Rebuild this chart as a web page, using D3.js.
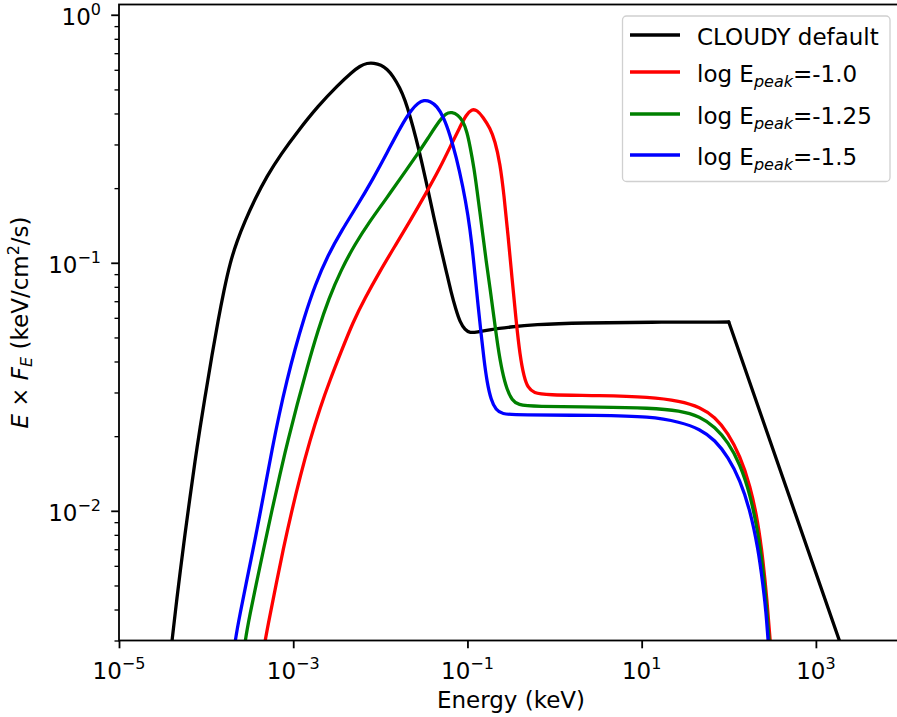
<!DOCTYPE html>
<html>
<head>
<meta charset="utf-8">
<script src="https://cdn.jsdelivr.net/npm/d3@7"></script>
<style>
  body { margin: 0; background: #fff; }
  text { font-family: "DejaVu Sans", sans-serif; fill: #000; }
</style>
</head>
<body>
<svg id="chart" width="897" height="717"></svg>
<script>
// ---- Spectra, tabulated as log10 E (keV) and log10 E*F_E (keV/cm^2/s) ----
const cloudyLogE = [-4.4145, -4.3916, -4.3456, -4.2997, -4.2423, -4.1849, -4.1275, -4.0701, -4.0012, -3.9324,
  -3.8635, -3.7946, -3.7257, -3.6454, -3.5535, -3.4387, -3.3010, -3.1402, -2.9451, -2.7155,
  -2.4859, -2.3252, -2.2333, -2.1530, -2.0726, -1.9922, -1.9234, -1.8545, -1.7741, -1.7167,
  -1.6593, -1.5904, -1.5216, -1.4527, -1.3838, -1.3149, -1.2460, -1.1886, -1.1312, -1.0853,
  -1.0279, -0.9705, -0.8902, -0.7409, -0.5113, -0.2473, 0.3267, 1.0959, 2.0];
const cloudyLogEF = [-2.5975, -2.5249, -2.3838, -2.2507, -2.0935, -1.9443, -1.7992, -1.6661, -1.5169, -1.3718,
  -1.2347, -1.1097, -1.0009, -0.9122, -0.8315, -0.7428, -0.6501, -0.5614, -0.4686, -0.3678,
  -0.2832, -0.2308, -0.2066, -0.1945, -0.1945, -0.2025, -0.2187, -0.2469, -0.2953, -0.3437,
  -0.4082, -0.4969, -0.5977, -0.7065, -0.8194, -0.9283, -1.0291, -1.1178, -1.1904, -1.2387,
  -1.2710, -1.2831, -1.2791, -1.2690, -1.2589, -1.2488, -1.2420, -1.2395, -1.2387];
// power-law tail of the default continuum above 100 keV
const cloudyTailLogE = [2.0, 3.6];
const cloudyTailLogEF = [-1.2387, -2.8574];

const peak10LogE = [-3.3584, -3.3239, -3.2665, -3.1976, -3.1173, -3.0140, -2.9221, -2.8073, -2.6925, -2.5777,
  -2.4514, -2.3137, -2.1759, -2.0037, -1.8315, -1.6593, -1.4871, -1.3149, -1.1772, -1.0853,
  -1.0164, -0.9510, -0.8902, -0.8213, -0.7409, -0.6835, -0.6261, -0.5802, -0.5343, -0.4884,
  -0.4424, -0.3965, -0.3506, -0.3047, -0.2358, -0.1095, 0.5219, 1.0959, 1.4403, 1.6699,
  1.8421, 1.9913, 2.1291, 2.2439, 2.3357, 2.3931, 2.4390, 2.4735, 2.4964];
const peak10LogEF = [-2.6015, -2.5249, -2.4201, -2.2991, -2.1580, -1.9967, -1.8637, -1.7145, -1.5855, -1.4726,
  -1.3597, -1.2387, -1.1420, -1.0331, -0.9323, -0.8315, -0.7267, -0.6178, -0.5170, -0.4525,
  -0.4041, -0.3799, -0.3840, -0.4122, -0.4566, -0.5090, -0.5977, -0.7267, -0.8880, -1.0613,
  -1.2307, -1.3758, -1.4605, -1.5048, -1.5250, -1.5331, -1.5351, -1.5411, -1.5573, -1.5815,
  -1.6218, -1.6863, -1.7790, -1.8959, -2.0451, -2.1983, -2.3596, -2.5209, -2.6015];

const peak125LogE = [-3.5765, -3.5535, -3.4961, -3.4272, -3.3469, -3.2436, -3.1517, -3.0599, -2.9566, -2.8418,
  -2.7155, -2.5892, -2.4514, -2.2907, -2.1185, -1.9348, -1.7512, -1.5790, -1.4297, -1.3149,
  -1.2460, -1.1772, -1.1083, -1.0509, -1.0050, -0.9705, -0.9246, -0.8902, -0.8558, -0.8213,
  -0.7869, -0.7409, -0.6950, -0.6491, -0.6032, -0.5458, -0.4884, -0.4195, -0.2473, 0.5219,
  1.0959, 1.4403, 1.6699, 1.8421, 1.9913, 2.1291, 2.2439, 2.3357, 2.3931, 2.4333,
  2.4620, 2.4850];
const peak125LogEF = [-2.6015, -2.5249, -2.4161, -2.2991, -2.1661, -1.9967, -1.8516, -1.7145, -1.5734, -1.4242,
  -1.2710, -1.1420, -1.0291, -0.9243, -0.8315, -0.7428, -0.6501, -0.5654, -0.4848, -0.4243,
  -0.3961, -0.3920, -0.4041, -0.4283, -0.4727, -0.5291, -0.6178, -0.7065, -0.7993, -0.8920,
  -0.9888, -1.1017, -1.2226, -1.3436, -1.4363, -1.5129, -1.5532, -1.5734, -1.5794, -1.5815,
  -1.5855, -1.5956, -1.6198, -1.6621, -1.7226, -1.8113, -1.9322, -2.0854, -2.2387, -2.3798,
  -2.5209, -2.6096];

const peak15LogE = [-3.6913, -3.6683, -3.6109, -3.5420, -3.4617, -3.3813, -3.3124, -3.2436, -3.1632, -3.0714,
  -2.9795, -2.8762, -2.7499, -2.6007, -2.4400, -2.2678, -2.0841, -1.9119, -1.7626, -1.6364,
  -1.5675, -1.4986, -1.4297, -1.3494, -1.2690, -1.2001, -1.1312, -1.0509, -0.9935, -0.9476,
  -0.9131, -0.8787, -0.8442, -0.8098, -0.7754, -0.7294, -0.6720, -0.6032, -0.4424, 0.5219,
  1.0959, 1.4403, 1.6699, 1.8421, 1.9913, 2.1291, 2.2439, 2.3357, 2.3931, 2.4276,
  2.4505, 2.4735];
const peak15LogEF = [-2.6015, -2.5249, -2.4161, -2.2951, -2.1580, -2.0129, -1.8838, -1.7548, -1.6137, -1.4726,
  -1.3476, -1.2226, -1.0896, -0.9686, -0.8678, -0.7710, -0.6622, -0.5493, -0.4485, -0.3799,
  -0.3558, -0.3437, -0.3477, -0.3678, -0.4162, -0.4848, -0.5694, -0.6944, -0.8073, -0.9283,
  -1.0492, -1.1702, -1.2831, -1.3920, -1.4807, -1.5532, -1.5935, -1.6097, -1.6137, -1.6149,
  -1.6198, -1.6419, -1.6702, -1.7145, -1.7830, -1.8758, -1.9967, -2.1499, -2.2991, -2.4080,
  -2.5209, -2.6096];

// ---- Axes ----
const xDomain = [1e-5, 1e4];
const yDomain = [0.003, 1.1];
const xTickExponents = [-5, -3, -1, 1, 3];
const yTickExponents = [-2, -1, 0];
const xLabel = "Energy (keV)";

// ---- Legend entries ----
const legendPrefix = ["CLOUDY default", "log E", "log E", "log E"];
const legendSub = ["", "peak", "peak", "peak"];
const legendSuffix = ["", "=-1.0", "=-1.25", "=-1.5"];
const seriesColors = ["#000000", "#ff0000", "#008000", "#0000ff"];

const svg = d3.select("#chart");
const plot = { left: 119, right: 903, top: 4.5, bottom: 640.5 };
const fontSize = 23, supSize = 16;
const lineW = 3.3;

const x = d3.scaleLog().domain(xDomain).range([plot.left, plot.right]);
const y = d3.scaleLog().domain(yDomain).range([plot.bottom, plot.top]);

svg.append("rect").attr("width", 897).attr("height", 717).attr("fill", "#fff");

svg.append("defs").append("clipPath").attr("id", "plotClip")
  .append("rect")
  .attr("x", plot.left).attr("y", plot.top)
  .attr("width", plot.right - plot.left).attr("height", plot.bottom - plot.top);

const pts = (le, lf) => le.map((v, i) => ({ e: Math.pow(10, v), f: Math.pow(10, lf[i]) }));
const smooth = d3.line().x(d => x(d.e)).y(d => y(d.f)).curve(d3.curveBasis);
const straight = d3.line().x(d => x(d.e)).y(d => y(d.f));

const curves = svg.append("g").attr("clip-path", "url(#plotClip)")
  .attr("fill", "none").attr("stroke-width", lineW)
  .attr("stroke-linejoin", "round").attr("stroke-linecap", "round");

curves.append("path").attr("d", smooth(pts(cloudyLogE, cloudyLogEF))).attr("stroke", seriesColors[0]);
curves.append("path").attr("d", straight(pts(cloudyTailLogE, cloudyTailLogEF))).attr("stroke", seriesColors[0]);
curves.append("path").attr("d", smooth(pts(peak10LogE, peak10LogEF))).attr("stroke", seriesColors[1]);
curves.append("path").attr("d", smooth(pts(peak125LogE, peak125LogEF))).attr("stroke", seriesColors[2]);
curves.append("path").attr("d", smooth(pts(peak15LogE, peak15LogEF))).attr("stroke", seriesColors[3]);

// spines
svg.append("rect")
  .attr("x", plot.left).attr("y", plot.top)
  .attr("width", plot.right - plot.left).attr("height", plot.bottom - plot.top)
  .attr("fill", "none").attr("stroke", "#000").attr("stroke-width", 1.8);

// x axis ticks and labels
const xAxis = d3.axisBottom(x)
  .tickValues(xTickExponents.map(p => Math.pow(10, p)))
  .tickSize(7.8).tickFormat("");
const gx = svg.append("g").attr("transform", `translate(0,${plot.bottom})`).call(xAxis);
gx.select(".domain").remove();
gx.selectAll(".tick line").attr("stroke", "#000").attr("stroke-width", 1.8);

const expText = p => (p < 0 ? "\u2212" + Math.abs(p) : String(p));

xTickExponents.forEach(p => {
  const t = svg.append("text")
    .attr("x", x(Math.pow(10, p))).attr("y", 679)
    .attr("text-anchor", "middle").attr("font-size", fontSize);
  t.append("tspan").text("10");
  t.append("tspan").attr("font-size", supSize).attr("dy", -10).text(expText(p));
});

// y axis: major ticks with labels, minor ticks at 2..9 of each decade
const yMajor = yTickExponents.map(p => Math.pow(10, p));
const yMinor = [];
for (let p = -3; p <= 0; p++) {
  for (let m = 2; m <= 9; m++) {
    const v = m * Math.pow(10, p);
    if (v >= yDomain[0] * 0.999 && v <= yDomain[1]) yMinor.push(v);
  }
}
const gyMinor = svg.append("g").attr("transform", `translate(${plot.left},0)`)
  .call(d3.axisLeft(y).tickValues(yMinor).tickSize(4.5).tickFormat(""));
gyMinor.select(".domain").remove();
gyMinor.selectAll(".tick line").attr("stroke", "#000").attr("stroke-width", 1.35);

const gy = svg.append("g").attr("transform", `translate(${plot.left},0)`)
  .call(d3.axisLeft(y).tickValues(yMajor).tickSize(7.8).tickFormat(""));
gy.select(".domain").remove();
gy.selectAll(".tick line").attr("stroke", "#000").attr("stroke-width", 1.8);

yTickExponents.forEach(p => {
  const t = svg.append("text")
    .attr("x", 101).attr("y", y(Math.pow(10, p)) + 10.4)
    .attr("text-anchor", "end").attr("font-size", fontSize);
  t.append("tspan").text("10");
  t.append("tspan").attr("font-size", supSize).attr("dy", -10).text(expText(p));
});

// axis titles
svg.append("text")
  .attr("x", (plot.left + plot.right) / 2).attr("y", 708)
  .attr("text-anchor", "middle").attr("font-size", fontSize)
  .text(xLabel);

const yl = svg.append("text")
  .attr("transform", `translate(28,${(plot.top + plot.bottom) / 2}) rotate(-90)`)
  .attr("text-anchor", "middle").attr("font-size", fontSize);
yl.append("tspan").attr("font-style", "italic").text("E");
yl.append("tspan").text(" \u00d7 ");
yl.append("tspan").attr("font-style", "italic").text("F");
yl.append("tspan").attr("font-style", "italic").attr("font-size", supSize).attr("dy", 4).text("E");
yl.append("tspan").attr("dy", -4).text(" (keV/cm");
yl.append("tspan").attr("font-size", supSize).attr("dy", -9).text("2");
yl.append("tspan").attr("dy", 9).text("/s)");

// legend
const legend = svg.append("g");
legend.append("rect")
  .attr("x", 622.5).attr("y", 16).attr("width", 267.5).attr("height", 165.5)
  .attr("rx", 4).attr("ry", 4)
  .attr("fill", "#fff").attr("fill-opacity", 0.8)
  .attr("stroke", "#d0d0d0").attr("stroke-width", 1.3);

const rowY = [35, 72, 114, 155];
legendPrefix.forEach((label, i) => {
  legend.append("line")
    .attr("x1", 630).attr("x2", 680).attr("y1", rowY[i]).attr("y2", rowY[i])
    .attr("stroke", seriesColors[i]).attr("stroke-width", lineW);
  const t = legend.append("text")
    .attr("x", 697).attr("y", rowY[i] + 10).attr("font-size", fontSize);
  t.append("tspan").text(label);
  if (legendSub[i]) {
    t.append("tspan").attr("font-style", "italic").attr("font-size", supSize).attr("dy", 5).text(legendSub[i]);
    t.append("tspan").attr("dy", -5).text(legendSuffix[i]);
  }
});
</script>
</body>
</html>
